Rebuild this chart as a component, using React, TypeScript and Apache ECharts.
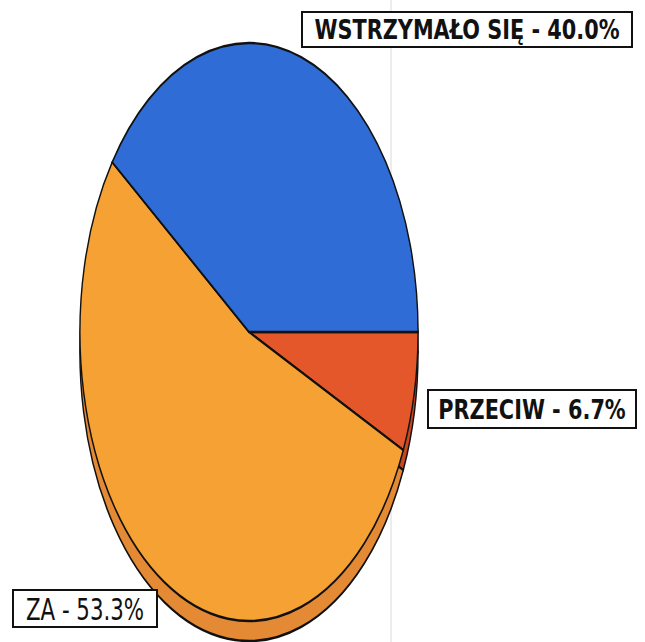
import React, { useEffect, useRef } from "react";
import * as echarts from "echarts";

// Data (clockwise from 3 o'clock)
const categories = ["PRZECIW", "ZA", "WSTRZYMAŁO SIĘ"];
const values = [6.7, 53.3, 40.0];
const topColors = ["#e4572b", "#f6a134", "#2f6cd6"];
const sideColors = ["#c9471f", "#e48a34", "#2456b0"];

const CX = 249;
const CY = 332;
const RX = 169;
const RY = 289;
const DEPTH = 20;

// label boxes (x, y, w, h) in the order of categories
const boxes = [
  { x: 428, y: 390, w: 208, h: 38, weight: "bold", size: 26, sx: 0.89 },
  { x: 13, y: 590, w: 144, h: 37, weight: "500", size: 30, sx: 0.79 },
  { x: 302, y: 12, w: 330, h: 35, weight: "bold", size: 26, sx: 0.89 },
];

export default function App() {
  const ref = useRef<HTMLDivElement>(null);
  useEffect(() => {
    if (!ref.current) return;
    const chart = echarts.init(ref.current, undefined, { renderer: "svg" });
    const total = values.reduce((a, b) => a + b, 0);
    const starts: number[] = [];
    let acc = 0;
    values.forEach((v) => {
      starts.push(acc);
      acc += v;
    });
    const makeRender = (offset: number, colors: string[]) => (params: any, api: any) => {
      const i = params.dataIndex;
      const v = api.value(0);
      const a0 = (starts[i] / total) * Math.PI * 2;
      const a1 = a0 + (v / total) * Math.PI * 2;
      return {
        type: "sector",
        x: CX,
        y: CY + offset,
        scaleX: RX / RY,
        scaleY: 1,
        shape: { cx: 0, cy: 0, r0: 0, r: RY, startAngle: a0, endAngle: a1, clockwise: true },
        style: { fill: colors[i], stroke: "#111", lineWidth: 2.4, strokeNoScale: true },
      };
    };
    const font = (b: any) =>
      `${b.weight} ${b.size}px "Liberation Sans Narrow", "DejaVu Sans Condensed", "Arial Narrow", sans-serif`;
    const graphics: any[] = [
      {
        type: "line",
        shape: { x1: 391, y1: 0, x2: 391, y2: 642 },
        style: { stroke: "#dadada", lineWidth: 1 },
        z: 0,
      },
    ];
    categories.forEach((c, i) => {
      const b = boxes[i];
      graphics.push({
        type: "rect",
        shape: { x: b.x, y: b.y, width: b.w, height: b.h },
        style: { fill: "#fff", stroke: "#111", lineWidth: 2 },
        z: 10,
      });
      graphics.push({
        type: "text",
        x: b.x + b.w / 2,
        y: b.y + b.h / 2 + 1,
        scaleX: b.sx,
        style: {
          text: `${c} - ${values[i].toFixed(1)}%`,
          font: font(b),
          fill: "#111",
          align: "center",
          verticalAlign: "middle",
        },
        z: 11,
      });
    });
    chart.setOption({
      animation: false,
      backgroundColor: "#fff",
      graphic: graphics,
      series: [
        {
          type: "custom",
          coordinateSystem: "none",
          z: 2,
          silent: true,
          renderItem: makeRender(DEPTH, sideColors),
          data: values.map((v) => [v]),
        },
        {
          type: "custom",
          coordinateSystem: "none",
          z: 3,
          silent: true,
          renderItem: makeRender(0, topColors),
          data: values.map((v) => [v]),
        },
      ],
    });
    return () => chart.dispose();
  }, []);
  return (
    <div
      ref={ref}
      style={{ position: "fixed", left: 0, top: 0, width: 645, height: 642 }}
    />
  );
}
